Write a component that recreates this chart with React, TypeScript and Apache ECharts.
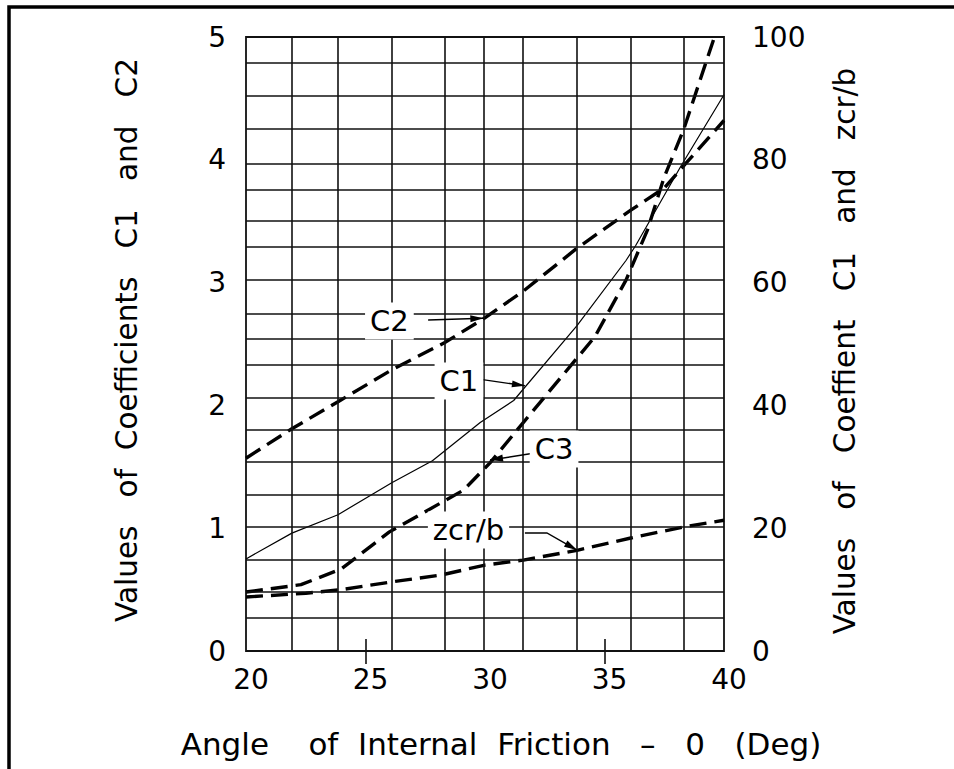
import React, { useEffect, useRef } from "react";
import * as echarts from "echarts";

const FONT = '"DejaVu Sans", "Liberation Sans", sans-serif';

// axis ranges and tick labels
const angleRange = [20, 40];
const coefRange = [0, 5];
const depthRange = [0, 100];
const xLabelValues = [20, 25, 30, 35, 40];
const xTickMarks = [25, 35];

// hand-drawn grid of the original chart (angles in degrees, values on left axis)
const gridAngles = [21.92, 23.85, 26.1, 28.3, 29.96, 31.6, 33.85, 36.1, 38.3];
const gridValues = [0.27, 0.48, 0.74, 1.01, 1.27, 1.54, 1.8, 2.06, 2.33, 2.54, 2.75, 3.02, 3.29, 3.5, 3.76, 3.97, 4.25, 4.52, 4.79];

// C1 (thin solid)
const c1Angles = [20, 21.92, 23.85, 26.1, 27.8, 29.8, 31.2, 33.85, 35.9, 36.3, 38.2, 40];
const c1Values = [0.75, 0.96, 1.11, 1.37, 1.55, 1.86, 2.04, 2.65, 3.18, 3.3, 3.95, 4.53];

// C2 (dashed)
const c2Angles = [20, 21.92, 23.85, 26.1, 28.3, 29.9, 31.6, 33.85, 36.1, 37.5, 38.4, 40];
const c2Values = [1.57, 1.81, 2.03, 2.29, 2.51, 2.7, 2.93, 3.28, 3.59, 3.77, 3.97, 4.32];

// C3 (dashed)
const c3Angles = [20, 22.3, 24, 26, 29.1, 30.2, 31.6, 33.7, 34.6, 35.9, 36.8, 37.5, 38.3, 39.6];
const c3Values = [0.48, 0.54, 0.67, 0.97, 1.31, 1.53, 1.86, 2.35, 2.56, 3.02, 3.43, 3.86, 4.24, 5.0];

// zcr/b (dashed, right axis)
const zcrAngles = [20, 22.5, 24, 26, 28.2, 30, 31.6, 33.85, 36.1, 38.3, 40];
const zcrValues = [8.8, 9.4, 10.0, 11.2, 12.4, 14.0, 14.8, 16.4, 18.4, 20.2, 21.3];

// annotations (data coordinates on the left axis)
const annoTexts = ["C2", "C1", "C3", "zcr/b"];
const annoAt = [
  [26.0, 2.687],
  [28.91, 2.199],
  [32.89, 1.645],
  [29.31, 0.985],
];
const annoLeaders = [
  [[27.62, 2.695], [29.93, 2.71]],
  [[29.9, 2.21], [31.67, 2.16]],
  [[32.02, 1.61], [30.21, 1.555]],
  [[31.67, 0.961], [32.59, 0.961], [33.85, 0.822]],
];

const zip = (xs: number[], ys: number[]) => xs.map((x, i) => [x, ys[i]]);

const dashed = { color: "#000", width: 3.4, type: [17, 8] as number[], cap: "butt" as const };

export default function App() {
  const ref = useRef<HTMLDivElement>(null);
  useEffect(() => {
    const el = ref.current;
    if (!el) return;
    const chart = echarts.init(el, null, { renderer: "svg" });
    const option: any = {
      animation: false,
      backgroundColor: "#fff",
      grid: {
        left: 246,
        right: 230,
        top: 37,
        bottom: 118,
        show: true,
        borderColor: "#111",
        borderWidth: 1.8,
        backgroundColor: "transparent",
      },
      xAxis: [
        {
          type: "value",
          min: angleRange[0],
          max: angleRange[1],
          interval: 5,
          position: "bottom",
          axisLine: { show: false },
          splitLine: { show: false },
          axisTick: { show: true, customValues: xTickMarks, length: 13, lineStyle: { color: "#111", width: 1.6 } },
          axisLabel: {
            customValues: xLabelValues,
            fontSize: 28,
            color: "#000",
            fontFamily: FONT,
            margin: 14,
            padding: [0, 0, 0, 10],
          },
        },
        {
          type: "value",
          min: angleRange[0],
          max: angleRange[1],
          interval: 5,
          position: "bottom",
          axisLine: { show: false },
          splitLine: { show: false },
          axisLabel: { show: false },
          axisTick: { show: true, inside: true, customValues: xTickMarks, length: 12, lineStyle: { color: "#111", width: 1.6 } },
        },
      ],
      yAxis: [
        {
          type: "value",
          min: coefRange[0],
          max: coefRange[1],
          interval: 1,
          position: "left",
          axisLine: { show: false },
          axisTick: { show: false },
          splitLine: { show: false },
          axisLabel: { fontSize: 28, color: "#000", fontFamily: FONT, margin: 20, padding: [6, 0, 0, 0] },
        },
        {
          type: "value",
          min: depthRange[0],
          max: depthRange[1],
          interval: 20,
          position: "right",
          axisLine: { show: false },
          axisTick: { show: false },
          splitLine: { show: false },
          axisLabel: { fontSize: 28, color: "#000", fontFamily: FONT, margin: 28, padding: [6, 0, 0, 0] },
        },
      ],
      series: [
        {
          type: "line",
          name: "grid",
          data: [],
          silent: true,
          z: 1,
          markLine: {
            silent: true,
            symbol: ["none", "none"],
            label: { show: false },
            emphasis: { disabled: true },
            animation: false,
            lineStyle: { type: "solid", color: "#111", width: 1.6 },
            data: [
              ...gridAngles.map((a) => ({ xAxis: a })),
              ...gridValues.map((v) => ({ yAxis: v })),
            ],
          },
        },
        {
          type: "line",
          name: "C1",
          data: zip(c1Angles, c1Values),
          symbol: "none",
          z: 3,
          lineStyle: { color: "#000", width: 1.2 },
        },
        {
          type: "line",
          name: "C2",
          data: zip(c2Angles, c2Values),
          symbol: "none",
          z: 3,
          lineStyle: dashed,
        },
        {
          type: "line",
          name: "C3",
          data: zip(c3Angles, c3Values),
          symbol: "none",
          z: 3,
          lineStyle: dashed,
        },
        {
          type: "line",
          name: "zcr/b",
          yAxisIndex: 1,
          data: zip(zcrAngles, zcrValues),
          symbol: "none",
          z: 3,
          lineStyle: dashed,
        },
      ],
    };
    chart.setOption(option);

    const px = (p: number[]) => chart.convertToPixel({ seriesIndex: 1 }, p) as number[];
    const elements: any[] = [];
    annoTexts.forEach((t, i) => {
      const pts = annoLeaders[i].map(px);
      elements.push({
        type: "polyline",
        z: 50,
        silent: true,
        shape: { points: pts },
        style: { stroke: "#000", lineWidth: 1.4, fill: "none" },
      });
      const tip = pts[pts.length - 1];
      const prev = pts[pts.length - 2];
      const dx = tip[0] - prev[0];
      const dy = tip[1] - prev[1];
      const len = Math.hypot(dx, dy) || 1;
      const ux = dx / len;
      const uy = dy / len;
      const bx = tip[0] - ux * 13;
      const by = tip[1] - uy * 13;
      elements.push({
        type: "polygon",
        z: 50,
        silent: true,
        shape: {
          points: [
            tip,
            [bx - uy * 3.5, by + ux * 3.5],
            [bx + uy * 3.5, by - ux * 3.5],
          ],
        },
        style: { fill: "#000" },
      });
      const c = px(annoAt[i]);
      elements.push({
        type: "text",
        z: 60,
        silent: true,
        x: c[0],
        y: c[1],
        style: {
          text: t,
          font: `29px ${FONT}`,
          fill: "#000",
          align: "center",
          verticalAlign: "middle",
          backgroundColor: "#fff",
          padding: [4, 5],
        },
      });
    });

    elements.push(
      {
        type: "text",
        z: 60,
        silent: true,
        x: 127,
        y: 340,
        rotation: Math.PI / 2,
        style: {
          text: "Values   of  Coefficients   C1   and   C2",
          font: `29.5px ${FONT}`,
          fill: "#000",
          align: "center",
          verticalAlign: "middle",
        },
      },
      {
        type: "text",
        z: 60,
        silent: true,
        x: 845,
        y: 351,
        rotation: Math.PI / 2,
        style: {
          text: "Values   of   Coeffient   C1   and   zcr/b",
          font: `29.5px ${FONT}`,
          fill: "#000",
          align: "center",
          verticalAlign: "middle",
        },
      },
      {
        type: "text",
        z: 60,
        silent: true,
        x: 501,
        y: 744,
        style: {
          text: "Angle    of  Internal  Friction   –   0   (Deg)",
          font: `31px ${FONT}`,
          fill: "#000",
          align: "center",
          verticalAlign: "middle",
        },
      },
      {
        type: "rect",
        z: 70,
        silent: true,
        shape: { x: 9, y: 7, width: 1000, height: 1000 },
        style: { fill: "none", stroke: "#000", lineWidth: 3.5 },
      }
    );
    chart.setOption({ graphic: { elements } });
    return () => chart.dispose();
  }, []);
  return <div ref={ref} style={{ position: "fixed", left: 0, top: 0, width: 954, height: 769 }} />;
}
